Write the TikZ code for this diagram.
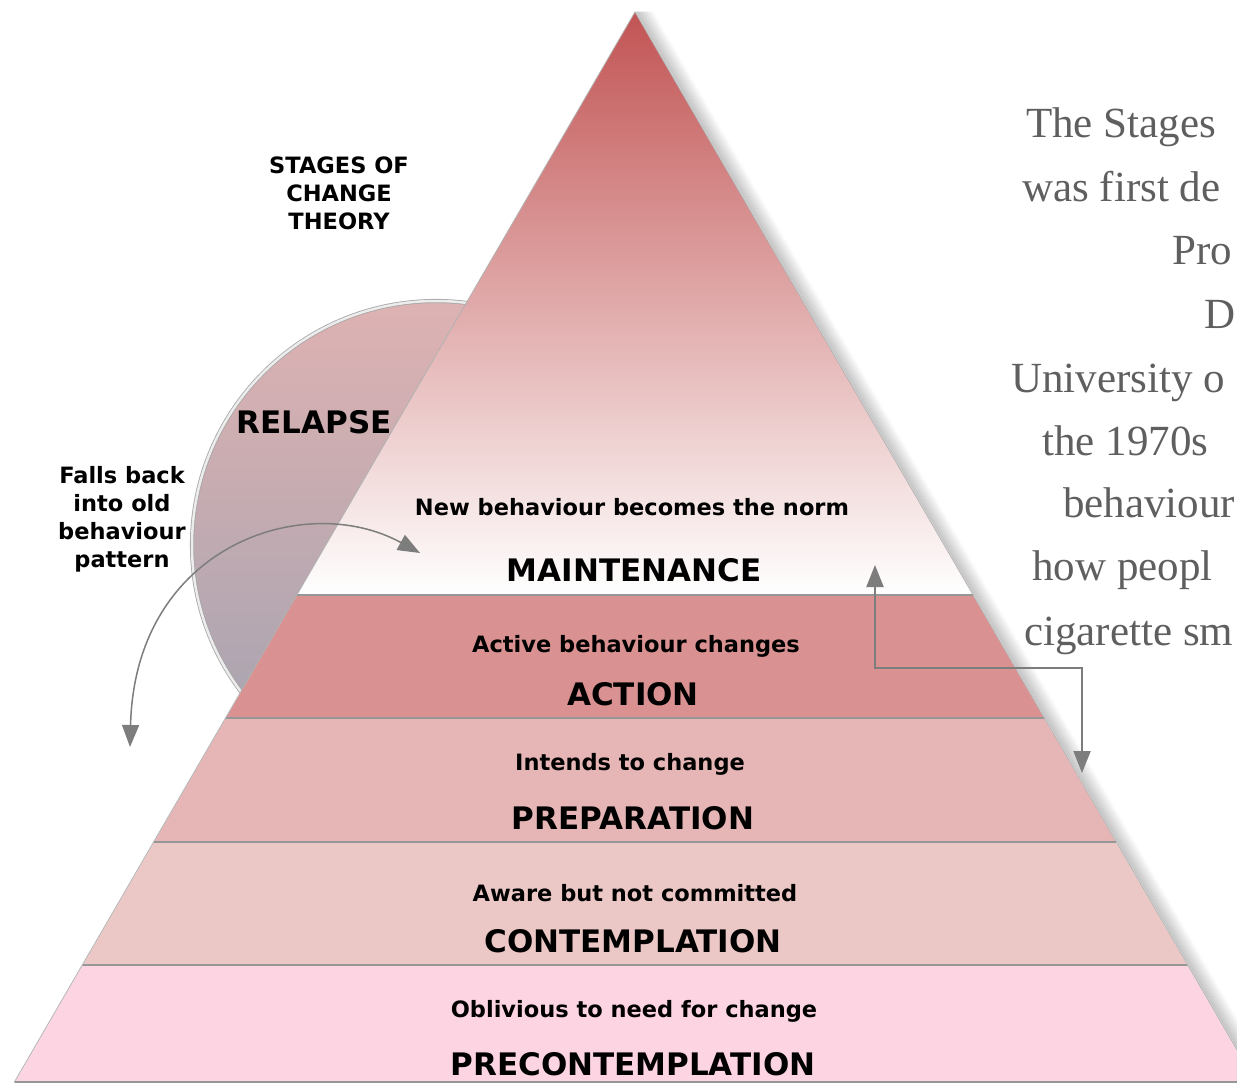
\documentclass[tikz,border=0pt]{standalone}
\usepackage{fontspec}
\setsansfont{DejaVu Sans}
\setmainfont{Liberation Serif}
\usetikzlibrary{arrows.meta,calc,positioning}
\definecolor{maintop}{RGB}{194,84,84}
\definecolor{maintmid}{RGB}{226,166,166}
\definecolor{actioncol}{RGB}{217,145,145}
\definecolor{prepcol}{RGB}{230,181,181}
\definecolor{contcol}{RGB}{235,200,197}
\definecolor{precol}{RGB}{252,212,226}
\definecolor{reltop}{RGB}{222,178,178}
\definecolor{relbot}{RGB}{160,162,176}
\definecolor{arrowgray}{RGB}{125,125,125}
\definecolor{bodygray}{RGB}{95,95,95}
\definecolor{sepgray}{RGB}{150,150,150}
\begin{document}
\begin{tikzpicture}[x=1pt,y=-1pt,line join=round,line cap=round,
  stagename/.style={font=\sffamily\bfseries\fontsize{31}{36}\selectfont,inner sep=0pt},
  stagedesc/.style={font=\sffamily\bfseries\fontsize{22.5}{28}\selectfont,inner sep=0pt},
  sidenote/.style={font=\sffamily\bfseries\fontsize{22.5}{28}\selectfont,align=center,inner sep=0pt},
  bodyline/.style={font=\fontsize{43}{50}\selectfont,text=bodygray,anchor=base west,inner sep=0pt},
  grayarrow/.style={draw=arrowgray,{Triangle[length=22pt,width=17pt]}-{Triangle[length=22pt,width=17pt]}}]
\useasboundingbox (0,0) rectangle (1237,1086);
\begin{scope}
\clip (0,0) rectangle (1237,1086);
% relapse circle behind the pyramid
\path[top color=reltop,bottom color=relbot] (436,545) circle (244pt);
\draw[draw=gray!70,double=gray!15,double distance=2.5pt,line width=0.8pt] (436,545) circle (244pt);
% pyramid
\coordinate (A) at (635,12);
\coordinate (BL) at (14.4,1082);
\coordinate (BR) at (1255.6,1082);
\foreach \d in {1,...,18}{\draw[line width=1.6pt,black,opacity={0.13*(1-\d/19)}]($(A)+(\d,0)$)--($(BR)+(\d,0)$);}
\path[top color=maintop,middle color=maintmid,bottom color=white] (A)--(973.1,595)--(296.9,595)--cycle;
\foreach \ya/\yb/\col in {595/718/actioncol,718/842/prepcol,842/965/contcol,965/1082/precol}{
  \fill[\col] ({635-0.5794*(\ya-12)},\ya)--({635+0.5794*(\ya-12)},\ya)--({635+0.5794*(\yb-12)},\yb)--({635-0.5794*(\yb-12)},\yb)--cycle;}
\foreach \y in {595,718,842,965,1082}{\draw[sepgray,line width=1.5pt]({635-0.5794*(\y-12)},\y)--({635+0.5794*(\y-12)},\y);}
\draw[gray!60,line width=0.8pt](BL)--(A)--(BR);
% stage texts
\node[stagedesc] (maintd) at (632,507) {New behaviour becomes the norm};
\node[stagename] (maint) at (634,570) {MAINTENANCE};
\node[stagedesc] (actiond) at (636,646) {Active behaviour changes};
\node[stagename] (action) at (633,694) {ACTION};
\node[stagedesc] (prepd) at (630,764) {Intends to change};
\node[stagename] (prep) at (633,818) {PREPARATION};
\node[stagedesc] (contd) at (635,893) {Aware but not committed};
\node[stagename] (cont) at (633,941) {CONTEMPLATION};
\node[stagedesc] (pred) at (634,1011) {Oblivious to need for change};
\node[stagename] (pre) at (633,1064) {PRECONTEMPLATION};
% side labels
\node[sidenote] (theory) at (339,193) {STAGES OF\\CHANGE\\THEORY};
\node[stagename] (relapse) at (314,422) {RELAPSE};
\node[sidenote] (falls) at (122,519) {Falls back\\into old\\behaviour\\pattern};
% arrows
\coordinate (fallend) at (130,747);
\coordinate (relapseend) at (420,553);
\draw[grayarrow,line width=1.5pt](fallend) .. controls (135,545) and (305,490) .. (relapseend);
\coordinate (upend) at (875,565);
\coordinate (downend) at (1082,773);
\draw[grayarrow,line width=2.2pt,line cap=butt,line join=miter](upend)--++(0,103)-|(downend);
\end{scope}
% text on the right
\foreach \x/\y/\t in {1026/138/The Stages,1022/202/was first de,1172/265/Pro,1204/328/D,1011/392/University o,1042/455/the 1970s,1063/517/behaviour,1032/580/how peopl,1024/645/cigarette sm}{\node[bodyline] at (\x,\y) {\t};}
\end{tikzpicture}
\end{document}
